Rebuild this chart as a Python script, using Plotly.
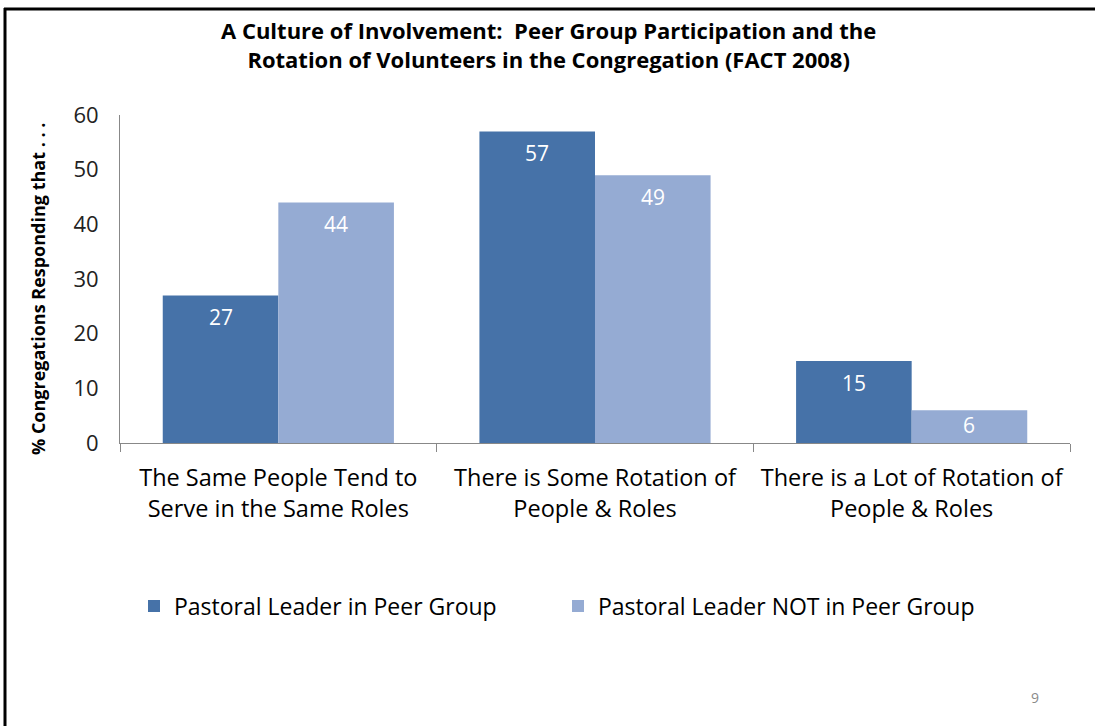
import plotly.graph_objects as go

categories = ["The Same People Tend to<br>Serve in the Same Roles",
              "There is Some Rotation of<br>People & Roles",
              "There is a Lot of Rotation of<br>People & Roles"]
series_names = ["Pastoral Leader in Peer Group", "Pastoral Leader NOT in Peer Group"]
in_group = [27, 57, 15]
not_in_group = [44, 49, 6]
label_shift = [[-22, -22, -22], [-22, -22, -15]]
colors = ["#4672A8", "#95ABD3"]

W, H = 1095, 726
ml, mr, mt, mb = 120, 25, 115, 283
pw, ph = W - ml - mr, H - mt - mb
def px(x): return (x - ml) / pw
def py(y): return (H - mb - y) / ph

font = "Open Sans"
fig = go.Figure()
for name, vals, col in zip(series_names, [in_group, not_in_group], colors):
    fig.add_trace(go.Bar(x=categories, y=vals, name=name, marker_color=col,
                         marker_line_width=0))

for s, vals in enumerate([in_group, not_in_group]):
    for i, v in enumerate(vals):
        fig.add_annotation(x=i, y=v, xref="x", yref="y", text=str(v), showarrow=False,
                           xshift=(-1 if s == 0 else 1) * 57.8, yshift=label_shift[s][i],
                           font=dict(family=font, size=21, color="white"))

fig.add_annotation(x=px(548), xref="paper", y=py(13), yref="paper",
                   text="<b>A Culture of Involvement:  Peer Group Participation and the<br>Rotation of Volunteers in the Congregation (FACT 2008)</b>",
                   showarrow=False, font=dict(family=font, size=22, color="black"),
                   xanchor="center", yanchor="top")
fig.add_annotation(x=px(38), y=py(289), xref="paper", yref="paper", textangle=-90,
                   text="<b>% Congregations Responding that . . .</b>", showarrow=False,
                   xanchor="center", yanchor="middle",
                   font=dict(family=font, size=18, color="black"))
fig.add_annotation(x=px(1035), y=py(697), xref="paper", yref="paper", text="9",
                   xanchor="center", yanchor="middle",
                   showarrow=False, font=dict(family=font, size=14, color="#8a8a8a"))

fig.add_shape(type="line", xref="paper", yref="paper", x0=px(4), x1=px(1095), y0=py(9), y1=py(9),
              line=dict(color="black", width=3))
fig.add_shape(type="line", xref="paper", yref="paper", x0=px(5), x1=px(5), y0=py(8), y1=py(726),
              line=dict(color="black", width=3))

fig.update_layout(
    width=W, height=H, margin=dict(l=ml, r=mr, t=mt, b=mb),
    plot_bgcolor="white", paper_bgcolor="white",
    barmode="group", bargap=0.27, bargroupgap=0,
    font=dict(family=font, size=18, color="black"),
    legend=dict(orientation="h", x=px(134), y=py(606), xanchor="left", yanchor="middle",
                font=dict(family=font, size=23, color="black"), entrywidth=379,
                itemwidth=30, bgcolor="rgba(0,0,0,0)"),
    showlegend=True,
)
fig.update_xaxes(type="category", showline=True, linecolor="#888888", linewidth=1,
                 ticks="outside", tickson="boundaries", ticklen=8, tickcolor="#888888",
                 tickfont=dict(family=font, size=23.5, color="black"), showgrid=False,
                 range=[-0.5, 2.5], ticklabelstandoff=14)
fig.update_yaxes(range=[0, 60], dtick=10, showline=True, linecolor="#888888", linewidth=1,
                 ticks="", showgrid=False, zeroline=False,
                 tickfont=dict(family=font, size=22, color="#222222"), ticklabelstandoff=16)

fig.write_html("out.html", config={"displayModeBar": False},
               post_script="document.body.style.margin='0px';")
